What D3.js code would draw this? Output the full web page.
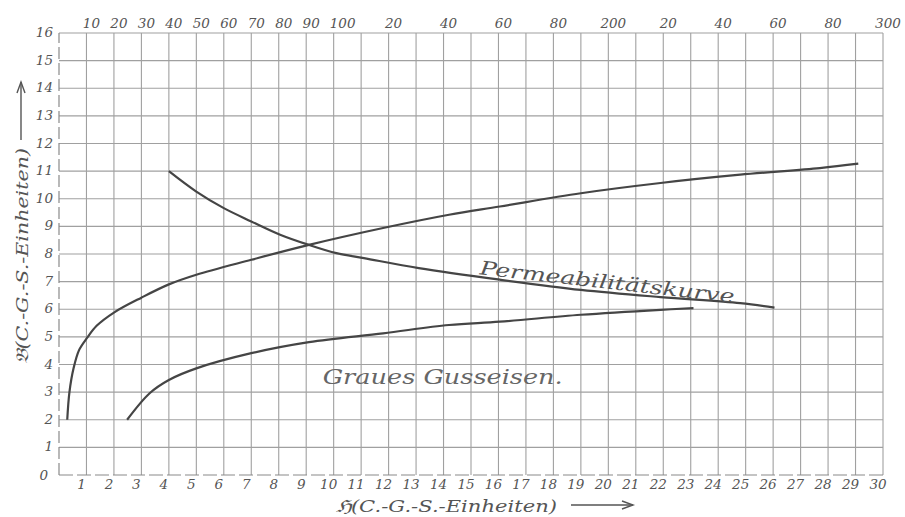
<!DOCTYPE html>
<html>
<head>
<meta charset="utf-8">
<script src="https://cdn.jsdelivr.net/npm/d3@7"></script>
<style>
  html, body { margin: 0; padding: 0; background: #fff; }
  svg { display: block; }
</style>
</head>
<body>
<svg id="chart" width="905" height="517"></svg>
<script>
// ---- data ----
const bottomTicks = d3.range(1, 31);                 // H axis, 1..30
const leftTicks = d3.range(0, 17);                   // B axis, 0..16
const topTickValues = [10,20,30,40,50,60,70,80,90,100,120,140,160,180,200,220,240,260,280,300];
const topTickLabels = ["10","20","30","40","50","60","70","80","90","100","20","40","60","80","200","20","40","60","80","300"];

// upper magnetisation curve
const upperH = [0.3, 0.38, 0.53, 0.73, 1.02, 1.37, 2.0, 3.0, 4.0, 5.0, 7.0, 9.1, 11.8, 14.2, 16.05, 19.0, 21.9, 24.8, 27.7, 29.1];
const upperB = [2.0, 3.0, 3.86, 4.52, 4.96, 5.4, 5.88, 6.42, 6.9, 7.25, 7.79, 8.33, 8.94, 9.42, 9.72, 10.2, 10.57, 10.87, 11.11, 11.27];

// "Graues Gusseisen" curve
const grayH = [2.48, 3.3, 4.0, 5.0, 7.0, 9.1, 11.8, 14.2, 16.05, 19.0, 21.9, 23.1];
const grayB = [2.0, 2.96, 3.44, 3.86, 4.41, 4.81, 5.13, 5.43, 5.55, 5.8, 5.98, 6.04];

// permeability curve
const permH = [4.0, 5.0, 6.0, 7.0, 8.05, 9.1, 10.1, 11.1, 13.1, 16.05, 19.0, 21.9, 24.8, 26.05];
const permB = [11.0, 10.26, 9.66, 9.18, 8.7, 8.33, 8.03, 7.85, 7.49, 7.07, 6.7, 6.44, 6.22, 6.06];

(function () {
// ---- layout ----
const svg = d3.select("#chart");
const mLeft = 59, mRight = 883, mTop = 33, mBottom = 475;
const x = d3.scaleLinear().domain([0, 30]).range([mLeft, mRight]);
const xTop = d3.scaleLinear().domain([0, 300]).range([mLeft, mRight]);
const y = d3.scaleLinear().domain([0, 16]).range([mBottom, mTop]);

const tickFont = "'DejaVu Serif', serif";
const gridColor = "#a0a0a0";

// grid
const grid = svg.append("g");
grid.selectAll("line.v").data(d3.range(1, 31)).join("line")
  .attr("x1", d => x(d)).attr("x2", d => x(d))
  .attr("y1", y(16)).attr("y2", y(0))
  .attr("stroke", gridColor).attr("stroke-width", 1.1);
grid.selectAll("line.h").data(d3.range(1, 17)).join("line")
  .attr("x1", x(0)).attr("x2", x(30))
  .attr("y1", d => y(d)).attr("y2", d => y(d))
  .attr("stroke", gridColor).attr("stroke-width", 1.1);
// axis lines (broken look)
grid.append("line").attr("x1", x(0)).attr("x2", x(30)).attr("y1", y(0)).attr("y2", y(0))
  .attr("stroke", "#8a8a8a").attr("stroke-width", 1.2).attr("stroke-dasharray", "14,4");
grid.append("line").attr("x1", x(0)).attr("x2", x(0)).attr("y1", y(0)).attr("y2", y(16))
  .attr("stroke", "#8a8a8a").attr("stroke-width", 1.2).attr("stroke-dasharray", "12,4");

// bottom tick labels
svg.append("g").selectAll("text").data(bottomTicks).join("text")
  .attr("x", d => x(d) - 5).attr("y", y(0) + 14)
  .attr("text-anchor", "middle")
  .attr("font-family", tickFont).attr("font-style", "italic").attr("font-size", 13.5)
  .attr("fill", "#555").text(d => d);

// left tick labels
svg.append("g").selectAll("text").data(leftTicks).join("text")
  .attr("x", d => d === 0 ? x(0) - 11 : x(0) - 6).attr("y", d => y(d) + 4 + (d === 0 ? 1 : 0))
  .attr("text-anchor", "end")
  .attr("font-family", tickFont).attr("font-style", "italic").attr("font-size", 13.5)
  .attr("fill", "#555").text(d => d);

// top tick labels
svg.append("g").selectAll("text").data(topTickValues).join("text")
  .attr("x", (d, i) => xTop(d) + (d === 100 ? 9 : 5)).attr("y", y(16) - 5)
  .attr("text-anchor", "middle")
  .attr("font-family", tickFont).attr("font-style", "italic").attr("font-size", 13.5)
  .attr("fill", "#555").text((d, i) => topTickLabels[i]);

// curves
const line = d3.line().x(d => x(d[0])).y(d => y(d[1])).curve(d3.curveCatmullRom.alpha(0.5));
const curves = [
  d3.zip(upperH, upperB),
  d3.zip(grayH, grayB),
  d3.zip(permH, permB)
];
svg.append("g").selectAll("path").data(curves).join("path")
  .attr("d", line)
  .attr("fill", "none").attr("stroke", "#454545").attr("stroke-width", 2.2)
  .attr("stroke-linecap", "butt");

// curve labels
const labelFont = "'DejaVu Serif', serif";
const permAngle = 6.4;
svg.append("text")
  .attr("transform", `translate(${x(15.3)},${y(7.3) + 1}) rotate(${permAngle})`)
  .attr("font-family", labelFont).attr("font-style", "italic").attr("font-size", 19)
  .attr("fill", "#555").attr("textLength", 256).attr("lengthAdjust", "spacingAndGlyphs")
  .text("Permeabilitätskurve");

svg.append("text")
  .attr("x", x(9.6)).attr("y", y(3.3))
  .attr("font-family", labelFont).attr("font-style", "italic").attr("font-size", 20)
  .attr("fill", "#666").attr("textLength", 240).attr("lengthAdjust", "spacingAndGlyphs")
  .text("Graues Gusseisen.");

// axis titles
const bt = svg.append("text")
  .attr("x", 336).attr("y", 512)
  .attr("font-family", labelFont).attr("font-style", "italic").attr("font-size", 17)
  .attr("fill", "#555").attr("textLength", 221).attr("lengthAdjust", "spacingAndGlyphs")
  .text("ℌ(C.-G.-S.-Einheiten)");
const bb = bt.node().getBBox();
const ax0 = bb.x + bb.width + 14, ax1 = ax0 + 62, ay = 505;
svg.append("line").attr("x1", ax0).attr("x2", ax1).attr("y1", ay).attr("y2", ay)
  .attr("stroke", "#555").attr("stroke-width", 1.4);
svg.append("path").attr("d", `M${ax1 - 11},${ay - 4} L${ax1},${ay} L${ax1 - 11},${ay + 4}`)
  .attr("fill", "none").attr("stroke", "#555").attr("stroke-width", 1.4);

svg.append("text")
  .attr("transform", "translate(28,364) rotate(-90)")
  .attr("font-family", labelFont).attr("font-style", "italic").attr("font-size", 17)
  .attr("fill", "#555").attr("textLength", 216).attr("lengthAdjust", "spacingAndGlyphs")
  .text("𝔅(C.-G.-S.-Einheiten)");
const lx = 21, ly0 = 364 - 216 - 8, ly1 = ly0 - 58;
svg.append("line").attr("x1", lx).attr("x2", lx).attr("y1", ly0).attr("y2", ly1)
  .attr("stroke", "#555").attr("stroke-width", 1.4);
svg.append("path").attr("d", `M${lx - 4},${ly1 + 11} L${lx},${ly1} L${lx + 4},${ly1 + 11}`)
  .attr("fill", "none").attr("stroke", "#555").attr("stroke-width", 1.4);
})();
</script>
</body>
</html>
